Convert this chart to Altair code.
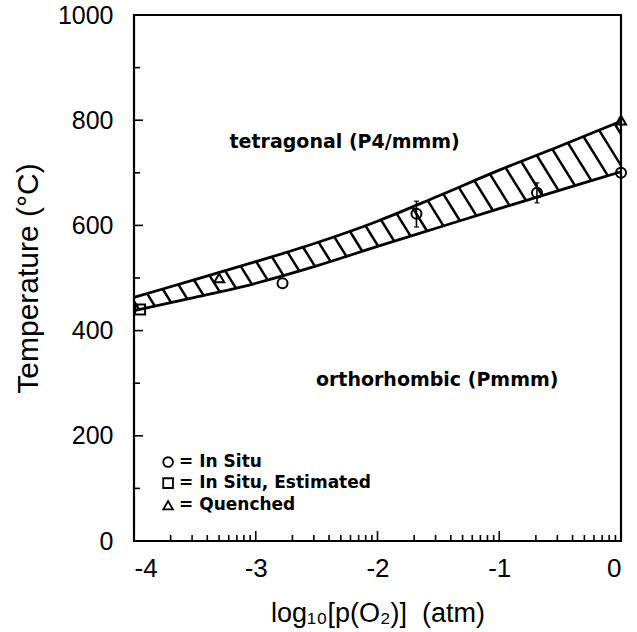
import numpy as np
import pandas as pd
import altair as alt

# Phase boundary band (temperature limits vs log10 pO2)
band_x = [-4.0, -3.5, -3.0, -2.5, -2.0, -1.5, -1.0, -0.5, 0.0]
band_upper = [463, 497, 531, 567, 608, 656, 705, 751, 798]
band_lower = [438, 463, 490, 523, 560, 596, 632, 667, 702]

# Measured transition points
pts_x = [-3.95, -3.30, -2.78, -1.68, -0.69, 0.0, 0.0]
pts_t = [440, 500, 490, 622, 662, 800, 700]
pts_kind = ["In Situ, Estimated", "Quenched", "In Situ", "In Situ", "In Situ", "Quenched", "In Situ"]

# Error bars on two in-situ points
err_x = [-1.68, -0.69]
err_lo = [597, 643]
err_hi = [646, 681]

legend_kinds = ["In Situ", "In Situ, Estimated", "Quenched"]
legend_t = [150, 110, 68]
shape_names = ["circle", "square", "triangle-up"]

x_ticks = [-4, -3, -2, -1, 0]
y_ticks = [0, 200, 400, 600, 800, 1000]
y_minor = [100, 300, 500, 700, 900]
log_mult = [2, 3, 4, 5, 6, 7, 8, 9]

W, H = 487, 526
px_dec = W / 4.0
px_deg = H / 1000.0
FONT = "Liberation Sans"
BOLD_FONT = "DejaVu Sans"
Y_TITLE = "Temperature (°C)"
X_TITLE = "log₁₀[p(O₂)]\u00a0\u00a0(atm)"

xs = alt.Scale(domain=[-4, 0], nice=False)
ys = alt.Scale(domain=[0, 1000], nice=False)


def X(field, **kw):
    return alt.X(field, scale=xs, title=X_TITLE, **kw)


def Y(field, **kw):
    return alt.Y(field, scale=ys, title=Y_TITLE, **kw)


band_df = pd.DataFrame({"x": band_x, "upper": band_upper, "lower": band_lower})

# Diagonal hatching between the two boundary curves
hatch_rows = []
for xu in np.arange(-4.02, 0.05, 0.128):
    tu = float(np.interp(xu, band_x, band_upper))
    xl = xu
    for _ in range(4):
        tl = float(np.interp(xl, band_x, band_lower))
        xl = xu + 0.62 * (tu - tl) * px_deg / px_dec
    hatch_rows.append({"x": xu, "t": tu, "x2": xl, "t2": tl})
hatch_df = pd.DataFrame(hatch_rows)

hatch = alt.Chart(hatch_df).mark_rule(color="black", strokeWidth=2.5, clip=True).encode(
    x=X("x:Q"), y=Y("t:Q"), x2="x2:Q", y2="t2:Q"
)

x_axis = alt.Axis(values=x_ticks, labelExpr="'' + datum.value", ticks=False, domain=False,
                  grid=False, labelPadding=14, labelFontSize=26, labelFont=FONT,
                  labelColor="black", titleFont=FONT, titleFontSize=27,
                  titleFontWeight="normal", titleColor="black", titlePadding=19)
y_axis = alt.Axis(values=y_ticks, labelExpr="'' + datum.value", ticks=False, domain=False,
                  grid=False, labelPadding=21, labelFontSize=25, labelFont=FONT,
                  labelColor="black", titleFont=FONT, titleFontSize=30,
                  titleFontWeight="normal", titleColor="black", titlePadding=14)

upper_line = alt.Chart(band_df).mark_line(color="black", strokeWidth=2.8, interpolate="monotone").encode(
    x=X("x:Q", axis=x_axis), y=Y("upper:Q", axis=y_axis)
)
lower_line = alt.Chart(band_df).mark_line(color="black", strokeWidth=2.8, interpolate="monotone").encode(
    x=X("x:Q"), y=Y("lower:Q")
)

pts_df = pd.DataFrame({"x": pts_x, "t": pts_t, "kind": pts_kind})
shape_scale = alt.Scale(domain=legend_kinds, range=shape_names)
points = alt.Chart(pts_df).mark_point(filled=False, color="black", strokeWidth=2, size=100, opacity=1).encode(
    x=X("x:Q"), y=Y("t:Q"),
    shape=alt.Shape("kind:N", scale=shape_scale, legend=None),
)

err_df = pd.DataFrame({"x": err_x, "lo": err_lo, "hi": err_hi})
err = alt.Chart(err_df).mark_errorbar(ticks=alt.MarkConfig(size=5), color="black", thickness=1.6).encode(
    x=X("x:Q"), y=Y("lo:Q"), y2="hi:Q"
)

# Inward tick marks on the left and bottom axes
y_major_df = pd.DataFrame({"t": y_ticks[1:-1]})
y_minor_df = pd.DataFrame({"t": y_minor})
ytick_major = alt.Chart(y_major_df).mark_rule(color="black", strokeWidth=1.6).encode(
    y=Y("t:Q"), x=alt.value(0), x2=alt.value(9))
ytick_minor = alt.Chart(y_minor_df).mark_rule(color="black", strokeWidth=1.6).encode(
    y=Y("t:Q"), x=alt.value(0), x2=alt.value(6))

x_major_df = pd.DataFrame({"x": x_ticks[1:-1]})
x_minor_df = pd.DataFrame({"x": [d + np.log10(m) for d in x_ticks[:-1] for m in log_mult]})
xtick_major = alt.Chart(x_major_df).mark_rule(color="black", strokeWidth=1.6).encode(
    x=X("x:Q"), y=alt.value(H), y2=alt.value(H - 10))
xtick_minor = alt.Chart(x_minor_df).mark_rule(color="black", strokeWidth=1.6).encode(
    x=X("x:Q"), y=alt.value(H), y2=alt.value(H - 6))

# Phase-region labels
phase_df = pd.DataFrame({"x": [-2.27, -1.51], "t": [758, 306],
                         "label": ["tetragonal (P4/mmm)", "orthorhombic (Pmmm)"]})
phase_text = alt.Chart(phase_df).mark_text(font=BOLD_FONT, fontSize=19, fontWeight="bold",
                                           align="center", baseline="middle", color="black").encode(
    x=X("x:Q"), y=Y("t:Q"), text="label:N")

# Symbol key
key_df = pd.DataFrame({"kind": legend_kinds, "t": legend_t, "xs": [-3.72] * 3, "xt": [-3.63] * 3,
                       "label": ["= " + k for k in legend_kinds]})
key_sym = alt.Chart(key_df).mark_point(filled=False, color="black", strokeWidth=1.8, size=95, opacity=1).encode(
    x=X("xs:Q"), y=Y("t:Q"),
    shape=alt.Shape("kind:N", scale=shape_scale, legend=None))
key_text = alt.Chart(key_df).mark_text(font=BOLD_FONT, fontSize=17, fontWeight="bold",
                                       align="left", baseline="middle", color="black").encode(
    x=X("xt:Q"), y=Y("t:Q"), text="label:N")

chart = alt.layer(
    upper_line, lower_line, hatch, err, points, ytick_major, ytick_minor, xtick_major, xtick_minor,
    phase_text, key_sym, key_text,
).properties(
    width=W, height=H,
    autosize=alt.AutoSizeParams(type="none"),
    padding={"left": 134, "top": 15, "right": 16, "bottom": 91},
    background="white",
).configure_view(stroke="black", strokeWidth=2.2)

chart.save("out.html", embed_options={"renderer": "svg", "actions": False})
